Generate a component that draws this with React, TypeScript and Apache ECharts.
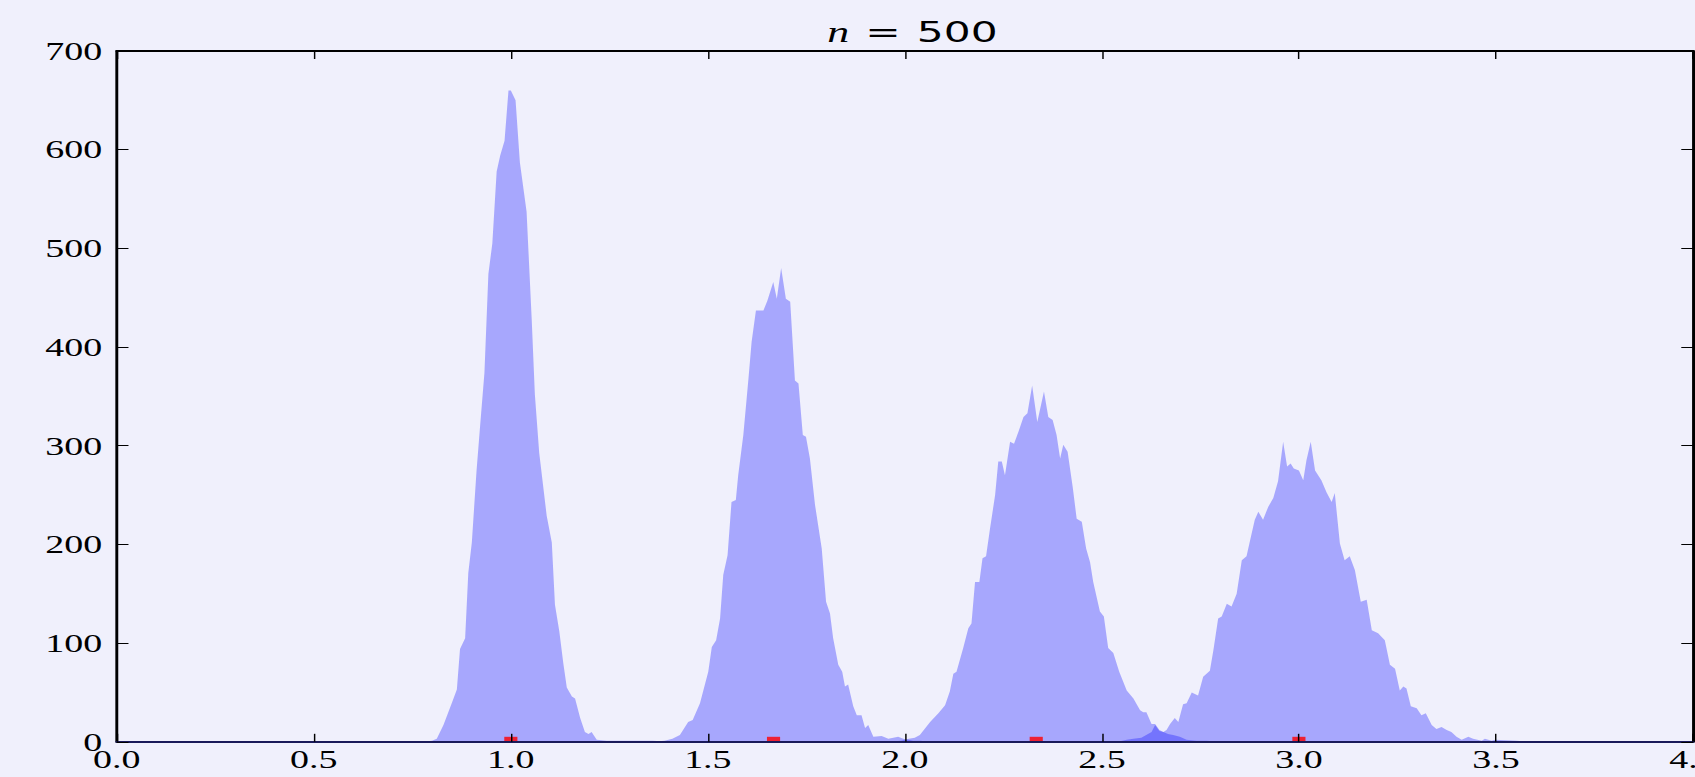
import React, { useEffect, useRef } from "react";
import * as echarts from "echarts";

// ---- data ----
const peakAX = [0.78, 0.8, 0.812, 0.829, 0.85, 0.863, 0.871, 0.884, 0.892, 0.901, 0.913, 0.922, 0.933, 0.943, 0.953, 0.964, 0.973, 0.984, 0.994, 1.0, 1.012, 1.023, 1.04, 1.053, 1.061, 1.072, 1.091, 1.104, 1.112, 1.123, 1.133, 1.142, 1.155, 1.163, 1.176, 1.188, 1.197, 1.205, 1.218, 1.243, 1.3, 1.36, 1.4];
const peakAY = [0, 1, 3, 17, 39, 53, 94, 105, 171, 202, 275, 320, 374, 474, 505, 578, 594, 609, 660, 660, 650, 587, 537, 428, 352, 293, 229, 202, 139, 112, 80, 55, 46, 44, 24, 10, 8, 10, 2, 1, 1, 1, 0];

const peakBX = [1.36, 1.39, 1.41, 1.429, 1.45, 1.4615, 1.48, 1.501, 1.51, 1.521, 1.531, 1.539, 1.55, 1.56, 1.571, 1.577, 1.59, 1.603, 1.611, 1.622, 1.641, 1.651, 1.666, 1.675, 1.686, 1.698, 1.709, 1.721, 1.73, 1.741, 1.749, 1.759, 1.772, 1.789, 1.8, 1.81, 1.818, 1.831, 1.841, 1.848, 1.856, 1.869, 1.878, 1.89, 1.899, 1.907, 1.92, 1.941, 1.958, 1.983, 1.996, 2.021, 2.04, 2.06];
const peakBY = [0, 1, 3, 7, 20, 22, 39, 71, 96, 103, 125, 169, 189, 243, 245, 270, 311, 368, 405, 437, 437, 447, 466, 449, 480, 449, 446, 366, 363, 311, 309, 287, 240, 196, 142, 130, 105, 78, 71, 56, 58, 36, 27, 27, 14, 17, 5, 6, 3, 5, 3, 1, 1, 0];

const peakCX = [1.96, 1.99, 2.01, 2.025, 2.038, 2.064, 2.085, 2.102, 2.114, 2.123, 2.131, 2.148, 2.161, 2.169, 2.178, 2.189, 2.197, 2.206, 2.216, 2.229, 2.237, 2.246, 2.254, 2.267, 2.277, 2.288, 2.301, 2.311, 2.323, 2.336, 2.353, 2.364, 2.375, 2.385, 2.394, 2.402, 2.413, 2.426, 2.436, 2.449, 2.46, 2.47, 2.478, 2.495, 2.505, 2.516, 2.529, 2.544, 2.563, 2.58, 2.597, 2.605, 2.613, 2.626, 2.635, 2.646, 2.656, 2.668, 2.681, 2.698, 2.715, 2.74, 2.765, 2.8];
const peakCY = [0, 1, 3, 4, 7, 20, 29, 37, 51, 69, 71, 95, 115, 120, 162, 162, 186, 188, 216, 250, 284, 284, 270, 304, 302, 314, 329, 333, 361, 324, 355, 329, 326, 311, 287, 301, 294, 258, 226, 223, 196, 182, 162, 132, 127, 95, 90, 71, 52, 44, 32, 30, 30, 18, 18, 12, 10, 8, 7, 5, 2, 1, 1, 0];

const peakDX = [2.54, 2.563, 2.58, 2.6, 2.626, 2.635, 2.646, 2.656, 2.664, 2.673, 2.685, 2.694, 2.706, 2.715, 2.728, 2.744, 2.757, 2.774, 2.783, 2.795, 2.804, 2.817, 2.829, 2.842, 2.855, 2.867, 2.876, 2.888, 2.897, 2.909, 2.922, 2.935, 2.947, 2.96, 2.97, 2.979, 2.987, 3.0, 3.011, 3.019, 3.03, 3.041, 3.057, 3.07, 3.083, 3.091, 3.104, 3.116, 3.129, 3.142, 3.157, 3.172, 3.185, 3.201, 3.218, 3.231, 3.244, 3.256, 3.265, 3.273, 3.284, 3.299, 3.311, 3.322, 3.337, 3.349, 3.362, 3.375, 3.387, 3.4, 3.413, 3.43, 3.442, 3.464, 3.472, 3.489, 3.498, 3.552, 3.594, 3.62];
const peakDY = [0, 2, 3, 4, 10, 17, 11, 10, 12, 18, 24, 20, 38, 39, 50, 47, 66, 72, 93, 125, 127, 140, 137, 150, 184, 188, 204, 225, 233, 225, 238, 247, 264, 304, 279, 282, 277, 275, 265, 285, 304, 275, 265, 253, 243, 252, 201, 184, 188, 174, 142, 144, 113, 110, 103, 78, 74, 52, 56, 54, 36, 34, 27, 29, 17, 13, 15, 12, 10, 5, 2, 5, 3, 1, 3, 1, 2, 1, 0, 0];

const centerX = [1.0, 5 / 3, 7 / 3, 3.0];
const centerY = [0, 0, 0, 0];

const titleN = "n";
const titleValue = "500";

const STRETCH_W = 1161;
const FULL_W = 1695;
const FULL_H = 777;

const zip = (xs: number[], ys: number[]) => xs.map((x, i) => [x, ys[i]]);

const FILL = "rgba(0,0,255,0.3)";
const SERIF = "'Liberation Serif', 'DejaVu Serif', serif";
const SANS = "'DejaVu Sans', sans-serif";

function areaSeries(name: string, xs: number[], ys: number[]) {
  return {
    name,
    type: "line",
    data: zip(xs, ys),
    showSymbol: false,
    symbol: "none",
    lineStyle: { width: 0, color: FILL },
    itemStyle: { color: FILL },
    areaStyle: { color: FILL, opacity: 1 },
    z: 2,
  };
}

export default function App() {
  const ref = useRef<HTMLDivElement>(null);
  useEffect(() => {
    if (!ref.current) return;
    const chart = echarts.init(ref.current, undefined, { renderer: "svg" });
    const axisCommon = {
      type: "value",
      splitLine: { show: false },
      axisLine: { show: true, onZero: false, lineStyle: { color: "#000", width: 2 } },
      axisTick: { show: true, inside: true, length: 8, lineStyle: { color: "#000", width: 1 } },
      z: 10,
    };
    chart.setOption({
      animation: false,
      backgroundColor: "transparent",
      title: {
        text: `{n|${titleN}}{e|=}{d|${titleValue}}`,
        left: 620,
        top: 12,
        textAlign: "center",
        textStyle: {
          fontWeight: "normal",
          rich: {
            n: { fontFamily: SERIF, fontStyle: "italic", fontWeight: "normal", fontSize: 30, color: "#000" },
            e: { fontFamily: SANS, fontWeight: "normal", fontSize: 29, color: "#000", padding: [0, 11, 0, 11] },
            d: { fontFamily: SANS, fontWeight: "normal", fontSize: 29, color: "#000" },
          },
        },
      },
      grid: {
        left: 80,
        top: 51,
        width: 1079.6,
        height: 690.8,
        containLabel: false,
        outerBoundsMode: "none",
      },
      xAxis: [
        {
          ...axisCommon,
          position: "bottom",
          min: 0,
          max: 4,
          interval: 0.5,
          axisLine: { show: true, onZero: false, lineStyle: { color: "#1a1a5a", width: 2 } },
          axisLabel: {
            formatter: (v: number) => v.toFixed(1),
            fontFamily: SERIF,
            fontSize: 26,
            color: "#000",
            margin: 4,
            hideOverlap: false,
          },
        },
        {
          ...axisCommon,
          position: "top",
          min: 0,
          max: 4,
          interval: 0.5,
          axisLabel: { show: false },
        },
      ],
      yAxis: [
        {
          ...axisCommon,
          position: "left",
          min: 0,
          max: 700,
          interval: 100,
          axisLabel: { fontFamily: SERIF, fontSize: 26, color: "#000", margin: 10 },
        },
        {
          ...axisCommon,
          position: "right",
          min: 0,
          max: 700,
          interval: 100,
          axisLabel: { show: false },
        },
      ],
      series: [
        areaSeries("A", peakAX, peakAY),
        areaSeries("B", peakBX, peakBY),
        areaSeries("C", peakCX, peakCY),
        areaSeries("D", peakDX, peakDY),
        {
          name: "centers",
          type: "scatter",
          data: zip(centerX, centerY),
          symbol: "rect",
          symbolSize: [9, 5],
          symbolOffset: [0, -2.5],
          itemStyle: { color: "#ff0000" },
          z: 5,
        },
      ],
    });
    return () => chart.dispose();
  }, []);

  return (
    <div
      style={{
        position: "fixed",
        left: 0,
        top: 0,
        width: FULL_W,
        height: FULL_H,
        overflow: "hidden",
        background: "#f0f0fc",
      }}
    >
      <div
        ref={ref}
        style={{
          width: STRETCH_W,
          height: FULL_H,
          transform: `scaleX(${FULL_W / STRETCH_W})`,
          transformOrigin: "0 0",
        }}
      />
    </div>
  );
}
